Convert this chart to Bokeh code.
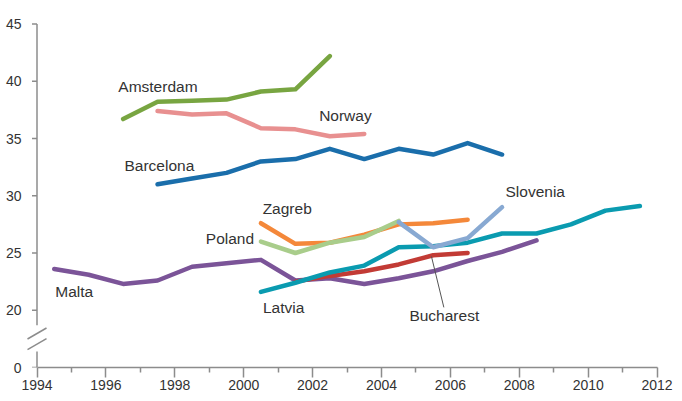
from bokeh.plotting import figure
from bokeh.models import Range1d, FixedTicker, ColumnDataSource
from bokeh.core.properties import value
from bokeh.embed import file_html
from bokeh.resources import INLINE
import math

# ---- data (values on the chart's broken axis; 15 on the scale is shown as "0") ----
malta_years = [1994.5, 1995.5, 1996.5, 1997.5, 1998.5, 1999.5, 2000.5, 2001.5, 2002.5, 2003.5, 2004.5, 2005.5, 2006.5, 2007.5, 2008.5]
malta = [23.6, 23.1, 22.3, 22.6, 23.8, 24.1, 24.4, 22.6, 22.8, 22.3, 22.8, 23.4, 24.3, 25.1, 26.1]

bucharest_years = [2001.5, 2002.5, 2003.5, 2004.5, 2005.5, 2006.5]
bucharest = [22.5, 23.0, 23.4, 24.0, 24.8, 25.0]

latvia_years = [2000.5, 2001.5, 2002.5, 2003.5, 2004.5, 2005.5, 2006.5, 2007.5, 2008.5, 2009.5, 2010.5, 2011.5]
latvia = [21.6, 22.4, 23.3, 23.9, 25.5, 25.6, 25.9, 26.7, 26.7, 27.5, 28.7, 29.1]

zagreb_years = [2000.5, 2001.5, 2002.5, 2003.5, 2004.5, 2005.5, 2006.5]
zagreb = [27.6, 25.8, 25.9, 26.6, 27.5, 27.6, 27.9]

poland_years = [2000.5, 2001.5, 2002.5, 2003.5, 2004.5]
poland = [26.0, 25.0, 25.9, 26.4, 27.8]

slovenia_years = [2004.5, 2005.5, 2006.5, 2007.5]
slovenia = [27.7, 25.5, 26.3, 29.0]

barcelona_years = [1997.5, 1998.5, 1999.5, 2000.5, 2001.5, 2002.5, 2003.5, 2004.5, 2005.5, 2006.5, 2007.5]
barcelona = [31.0, 31.5, 32.0, 33.0, 33.2, 34.1, 33.2, 34.1, 33.6, 34.6, 33.6]

norway_years = [1997.5, 1998.5, 1999.5, 2000.5, 2001.5, 2002.5, 2003.5]
norway = [37.4, 37.1, 37.2, 35.9, 35.8, 35.2, 35.4]

amsterdam_years = [1996.5, 1997.5, 1998.5, 1999.5, 2000.5, 2001.5, 2002.5]
amsterdam = [36.7, 38.2, 38.3, 38.4, 39.1, 39.3, 42.2]

x_ticks = [1994, 1996, 1998, 2000, 2002, 2004, 2006, 2008, 2010, 2012]
x_minor = [1995, 1997, 1999, 2001, 2003, 2005, 2007, 2009, 2011]
y_ticks = [15, 20, 25, 30, 35, 40, 45]
y_tick_labels = ["0", "20", "25", "30", "35", "40", "45"]

# ---- figure ----
PX_PER_YEAR = 34.45
PX_PER_UNIT = 11.45
X0 = 1994
FRAME_W = 640
FRAME_H = 354
x_start = X0 - 11.5 / PX_PER_YEAR
x_end = x_start + FRAME_W / PX_PER_YEAR

p = figure(frame_width=FRAME_W, frame_height=FRAME_H, output_backend="svg", toolbar_location=None,
           x_range=Range1d(x_start, x_end), y_range=Range1d(15, 15 + FRAME_H / PX_PER_UNIT),
           min_border_left=25, min_border_right=12, min_border_top=13, min_border_bottom=31)
p.outline_line_color = None
p.grid.visible = False
p.background_fill_color = "white"

axis_color = "#8c8c8c"
text_color = "#333333"
tick_font = "Liberation Sans"

# x axis
xa = p.xaxis[0]
xa.ticker = FixedTicker(ticks=x_ticks, minor_ticks=x_minor)
xa.bounds = (1994, 2012)
xa.axis_line_color = axis_color
xa.axis_line_width = 1.5
xa.major_tick_line_color = axis_color
xa.major_tick_line_width = 1.5
xa.minor_tick_line_color = axis_color
xa.minor_tick_line_width = 1.5
xa.major_tick_in = 0
xa.major_tick_out = 10
xa.minor_tick_in = 0
xa.minor_tick_out = 5
xa.major_label_standoff = 2
xa.major_label_text_font = tick_font
xa.major_label_text_font_size = "14px"
xa.major_label_text_color = text_color

# y axis (labels only; line, ticks and break drawn below)
ya = p.yaxis[0]
ya.ticker = FixedTicker(ticks=y_ticks)
ya.major_label_overrides = {t: l for t, l in zip(y_ticks, y_tick_labels)}
ya.axis_line_color = None
ya.major_tick_line_color = None
ya.minor_tick_line_color = None
ya.major_tick_in = 0
ya.major_tick_out = 0
ya.minor_tick_out = 0
ya.major_label_standoff = 4
ya.major_label_text_font = tick_font
ya.major_label_text_font_size = "14px"
ya.major_label_text_color = text_color

# broken y axis line
p.segment(x0=[X0, X0], y0=[45, 16.4], x1=[X0, X0], y1=[18.7, 15],
          line_color=axis_color, line_width=1.5)
# y ticks
p.ray(x=[X0] * len(y_ticks), y=y_ticks, length=5, length_units="screen", angle=math.pi,
      line_color=axis_color, line_width=1.5)
# break slashes
dx = 9.5 / PX_PER_YEAR
dy = 5.5 / PX_PER_UNIT
for c in (17.97, 17.05):
    p.segment(x0=[X0 - dx], y0=[c - dy], x1=[X0 + dx], y1=[c + dy],
              line_color=axis_color, line_width=1.5)

# ---- series ----
series = [
    (malta_years, malta, "#7b5498"),
    (bucharest_years, bucharest, "#c23b35"),
    (latvia_years, latvia, "#0a9bb0"),
    (zagreb_years, zagreb, "#f4883a"),
    (poland_years, poland, "#a9cd8b"),
    (slovenia_years, slovenia, "#88a9d2"),
    (barcelona_years, barcelona, "#1a6eab"),
    (norway_years, norway, "#e89090"),
    (amsterdam_years, amsterdam, "#78a541"),
]
for xs, ys, col in series:
    p.line(xs, ys, line_color=col, line_width=4.5, line_join="round", line_cap="round")

# Bucharest leader line
p.segment(x0=[2005.45], y0=[24.7], x1=[2005.81], y1=[20.25], line_color="#555555", line_width=1)

# ---- labels ----
label_names = ["Amsterdam", "Norway", "Barcelona", "Zagreb", "Poland", "Latvia", "Bucharest", "Slovenia", "Malta"]
label_x = [1996.36, 2002.19, 1996.54, 2000.55, 1998.9, 2000.56, 2004.81, 2007.6, 1994.53]
label_y = [39.56, 37.0, 32.68, 28.85, 26.25, 20.28, 19.54, 30.35, 21.62]
src = ColumnDataSource(dict(x=label_x, y=label_y, t=label_names))
p.text(x="x", y="y", text="t", source=src, text_font=value("Liberation Sans"),
       text_font_size="15.5px", text_color=text_color, text_baseline="alphabetic", text_align="left")

open("out.html", "w").write(file_html(p, INLINE))
